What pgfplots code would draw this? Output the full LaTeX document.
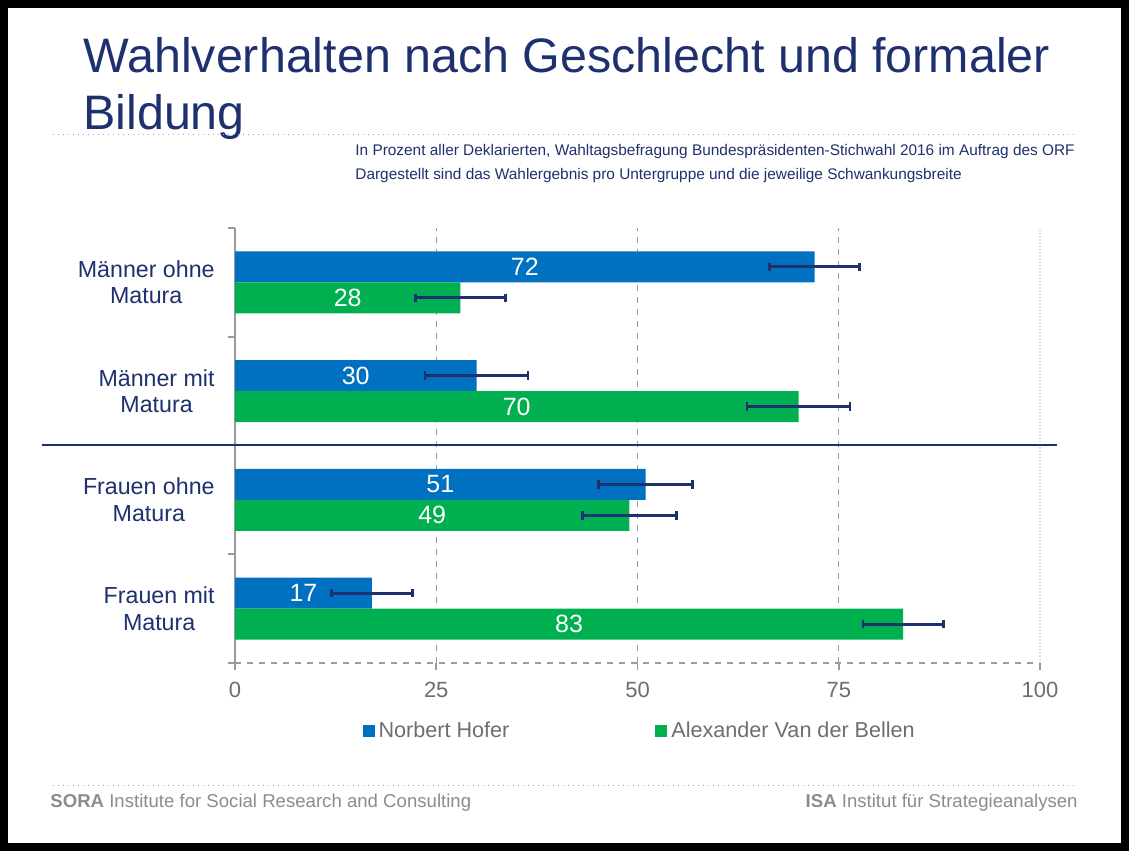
\documentclass[border=0pt]{standalone}
\usepackage{fontspec}
\setmainfont{Liberation Sans}
\usepackage{pgfplots}
\pgfplotsset{compat=1.18}
\definecolor{navy}{HTML}{1F306E}
\definecolor{hblue}{HTML}{0070C0}
\definecolor{vgreen}{HTML}{00B050}
\definecolor{tgrey}{HTML}{6E6E6E}
\definecolor{fgrey}{HTML}{8C8C8C}
\definecolor{agrey}{HTML}{9A9A9A}
\begin{document}
\begin{tikzpicture}
\fill[white] (0,0) rectangle (564.5pt,425.5pt);
\begin{scope}[x=0.5pt,y=-0.5pt,shift={(0pt,425.5pt)}]
\draw[black, line width=4pt] (4,4) rectangle (1125,847);
\node[anchor=base west, inner sep=0pt, text=navy, font=\fontsize{24.2}{28.5}\selectfont] at (83,72.7) {Wahlverhalten nach Geschlecht und formaler};
\node[anchor=base west, inner sep=0pt, text=navy, font=\fontsize{24.2}{28.5}\selectfont] at (83,130) {Bildung};
\draw[gray!70, dotted, line width=0.5pt] (53,135) -- (1077,135);
\node[anchor=base west, inner sep=0pt, text=navy, font=\fontsize{7.7}{9}\selectfont] at (355,156) {In Prozent aller Deklarierten, Wahltagsbefragung Bundespräsidenten-Stichwahl 2016 im Auftrag des ORF};
\node[anchor=base west, inner sep=0pt, text=navy, font=\fontsize{7.7}{9}\selectfont] at (355,180) {Dargestellt sind das Wahlergebnis pro Untergruppe und die jeweilige Schwankungsbreite};
\draw[gray!70, dotted, line width=0.5pt] (53,786) -- (1077,786);
\node[anchor=base west, inner sep=0pt, text=fgrey, font=\fontsize{9.3}{11}\selectfont] at (50,807) {\textbf{SORA} Institute for Social Research and Consulting};
\node[anchor=base east, inner sep=0pt, text=fgrey, font=\fontsize{9.3}{11}\selectfont] at (1078,807) {\textbf{ISA} Institut für Strategieanalysen};
\end{scope}
\begin{axis}[
  at={(117.5pt,94pt)}, anchor=south west,
  scale only axis, width=402.5pt, height=217.5pt,
  xmin=0, xmax=100, ymin=-0.5, ymax=3.5,
  clip=false,
  /pgf/number format/assume math mode=true,
  axis x line*=bottom, axis y line*=left,
  x axis line style={agrey, dashed, line width=0.6pt, -},
  y axis line style={agrey, line width=1.2pt, -},
  xtick={0,25,50,75}, extra x ticks={100},
  extra x tick style={grid style={gray!35, densely dotted, line width=0.8pt}},
  xmajorgrids, grid style={agrey, dashed, line width=0.6pt},
  tick align=outside, major tick length=3.5pt,
  tick style={agrey, line width=0.8pt},
  ytick={-0.5,0.5,1.5,2.5,3.5}, yticklabels={,,,,},
  extra y ticks={0,1,2,3},
  extra y tick labels={{Frauen mit\\Matura},{Frauen ohne\\Matura},{Männer mit\\Matura},{Männer ohne\\Matura}},
  extra y tick style={tick style={draw=none}},
  yticklabel style={align=center, anchor=east, inner sep=0pt, xshift=-6.5pt, text=navy, font=\fontsize{11.6}{13.2}\selectfont},
  xticklabel style={text=tgrey, font=\fontsize{11}{13}\selectfont, yshift=-2.5pt},
  xbar,
  bar width=15.5pt,
  nodes near coords,
  visualization depends on={rawx \as \rawx},
  every node near coord/.append style={anchor=center, text=white, font=\fontsize{12.5}{14}\selectfont, xshift={-2.0125pt*\rawx}},
  legend image code/.code={\fill[#1] (0pt,-3pt) rectangle (6pt,3pt);},
  legend style={at={(axis description cs:0.158,-0.156)}, anchor=west, draw=none, fill=none, inner sep=0pt,
    font=\fontsize{10.8}{13}\selectfont, text=tgrey, legend columns=2,
    /tikz/every even column/.append style={column sep=71pt}},
  error bars/error bar style={navy, line width=1.5pt},
  error bars/error mark options={navy, line width=1.4pt, mark size=2.1pt, rotate=90},
]
\addplot[fill=hblue, draw=none, bar shift=7.75pt,
  error bars/.cd, x dir=both, x explicit]
  coordinates {(72,3) +- (5.6,0) (30,2) +- (6.4,0) (51,1) +- (5.8,0) (17,0) +- (5.0,0)};
\addlegendentry{Norbert Hofer}
\addplot[fill=vgreen, draw=none, bar shift=-7.75pt,
  error bars/.cd, x dir=both, x explicit]
  coordinates {(28,3) +- (5.6,0) (70,2) +- (6.4,0) (49,1) +- (5.8,0) (83,0) +- (5.0,0)};
\addlegendentry{Alexander Van der Bellen}
\draw[navy, line width=1pt] (axis cs:-24,1.5) -- (axis cs:102.1,1.5);
\end{axis}
\end{tikzpicture}
\end{document}
